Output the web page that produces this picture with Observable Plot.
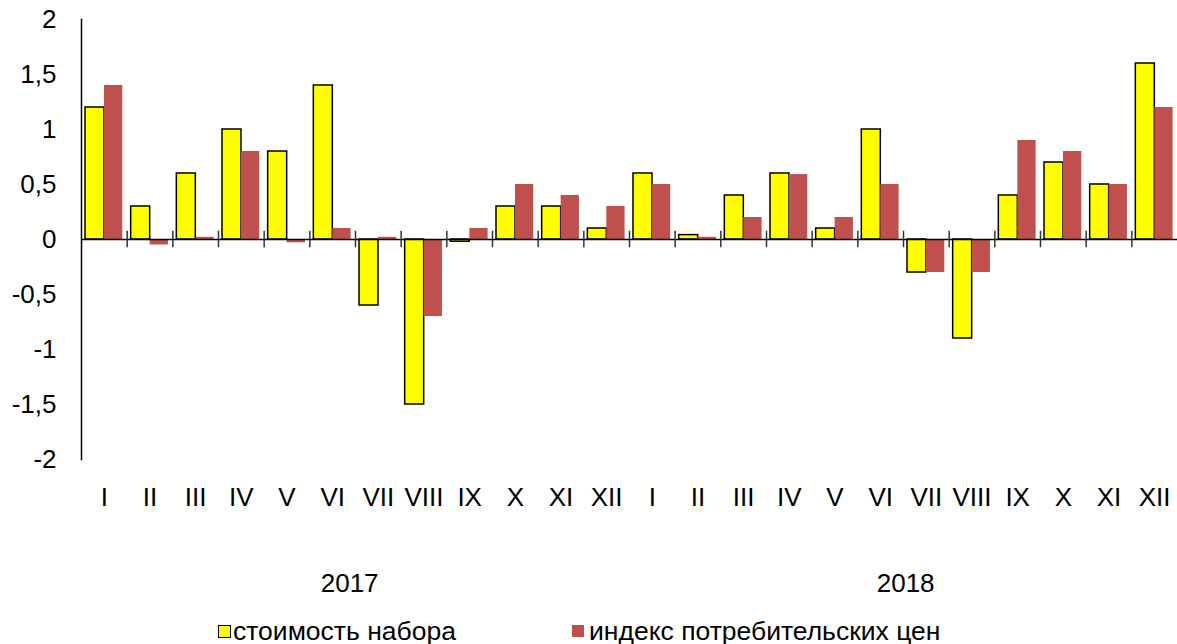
<!DOCTYPE html>
<html><head><meta charset="utf-8">
<script src="https://cdn.jsdelivr.net/npm/d3@7"></script>
<script src="https://cdn.jsdelivr.net/npm/@observablehq/plot@0.6"></script>
<style>
body{margin:0;background:#fff;font-family:"Liberation Sans",Arial,sans-serif;overflow:hidden;}
#wrap{position:relative;width:1177px;}
#legend{position:relative;height:36px;width:1177px;font-size:26.5px;color:#000;}
.sw{position:absolute;width:11px;height:11px;}
.lt{position:absolute;white-space:nowrap;line-height:30px;}
</style></head>
<body><div id="wrap"><div id="chart"></div>
<div id="legend">
<div class="sw" style="left:218px;top:17px;background:#FFFF00;border:1px solid #000;"></div>
<div class="lt" style="left:233px;top:8px;">стоимость набора</div>
<div class="sw" style="left:572px;top:17px;width:12px;height:12px;background:#C0504D;"></div>
<div class="lt" style="left:589px;top:8px;">индекс потребительских цен</div>
</div></div>
<script>
const years = ["2017", "2018"];
const months = ["I","II","III","IV","V","VI","VII","VIII","IX","X","XI","XII"];
const costSet = [1.2, 0.3, 0.6, 1.0, 0.8, 1.4, -0.6, -1.5, -0.02, 0.3, 0.3, 0.1,
                 0.6, 0.04, 0.4, 0.6, 0.1, 1.0, -0.3, -0.9, 0.4, 0.7, 0.5, 1.6];
const cpi = [1.4, -0.05, 0.02, 0.8, -0.03, 0.1, 0.02, -0.7, 0.1, 0.5, 0.4, 0.3,
             0.5, 0.02, 0.2, 0.59, 0.2, 0.5, -0.3, -0.3, 0.9, 0.8, 0.5, 1.2];
const yTicks = [-2, -1.5, -1, -0.5, 0, 0.5, 1, 1.5, 2];

const keys = years.flatMap(y => months.map(m => y + "-" + m));
const rows = keys.map((k, i) => ({key: k, cost: costSet[i], cpi: cpi[i]}));

const W = 1177, H = 608, mL = 81, mR = 0;
const bw = (W - mL - mR) / keys.length;
const fontFam = '"Liberation Sans", Arial, sans-serif';

const chart = Plot.plot({
  width: W, height: H,
  marginLeft: mL, marginRight: mR, marginTop: 19, marginBottom: H - 459,
  style: {fontFamily: fontFam, fontSize: "26px", color: "#000", background: "#fff"},
  x: {type: "band", domain: keys, padding: 0, round: false, label: null},
  y: {domain: [-2, 2], label: null},
  marks: [
    Plot.barY(rows, {x: "key", y: "cost", fill: "#FFFF00", stroke: "#000", strokeWidth: 1.5,
      insetLeft: 4, insetRight: bw - 23}),
    Plot.barY(rows, {x: "key", y: "cpi", fill: "#C0504D",
      insetLeft: 23, insetRight: 4.4}),
    Plot.ruleY([0], {stroke: "#000", strokeWidth: 1.5}),
    Plot.ruleX(keys.slice(1), {x: d => d, y1: -0.075, y2: 0.075, dx: -bw / 2, stroke: "#333", strokeWidth: 1.5}),
    Plot.frame({anchor: "left", stroke: "#000", strokeWidth: 1.5}),
    Plot.tickY(yTicks, {y: d => d, x: keys[0], dx: -8, insetRight: bw - 15, stroke: "#000", strokeWidth: 1.2}),
    Plot.axisY(yTicks, {tickSize: 0, tickPadding: 25, tickFormat: d => String(d).replace(".", ","), fontSize: 26}),
    Plot.axisX({anchor: "bottom", tickSize: 0, tickPadding: 28, tickFormat: d => d.split("-")[1], fontSize: 26}),
    Plot.text(["2017"], {x: () => "2017-VI", frameAnchor: "bottom", dy: 124, dx: 17, text: d => d, fontSize: 26, lineAnchor: "middle"}),
    Plot.text(["2018"], {x: () => "2018-VI", frameAnchor: "bottom", dy: 124, dx: 25, text: d => d, fontSize: 26, lineAnchor: "middle"})
  ]
});
document.getElementById("chart").appendChild(chart);
</script></body></html>
